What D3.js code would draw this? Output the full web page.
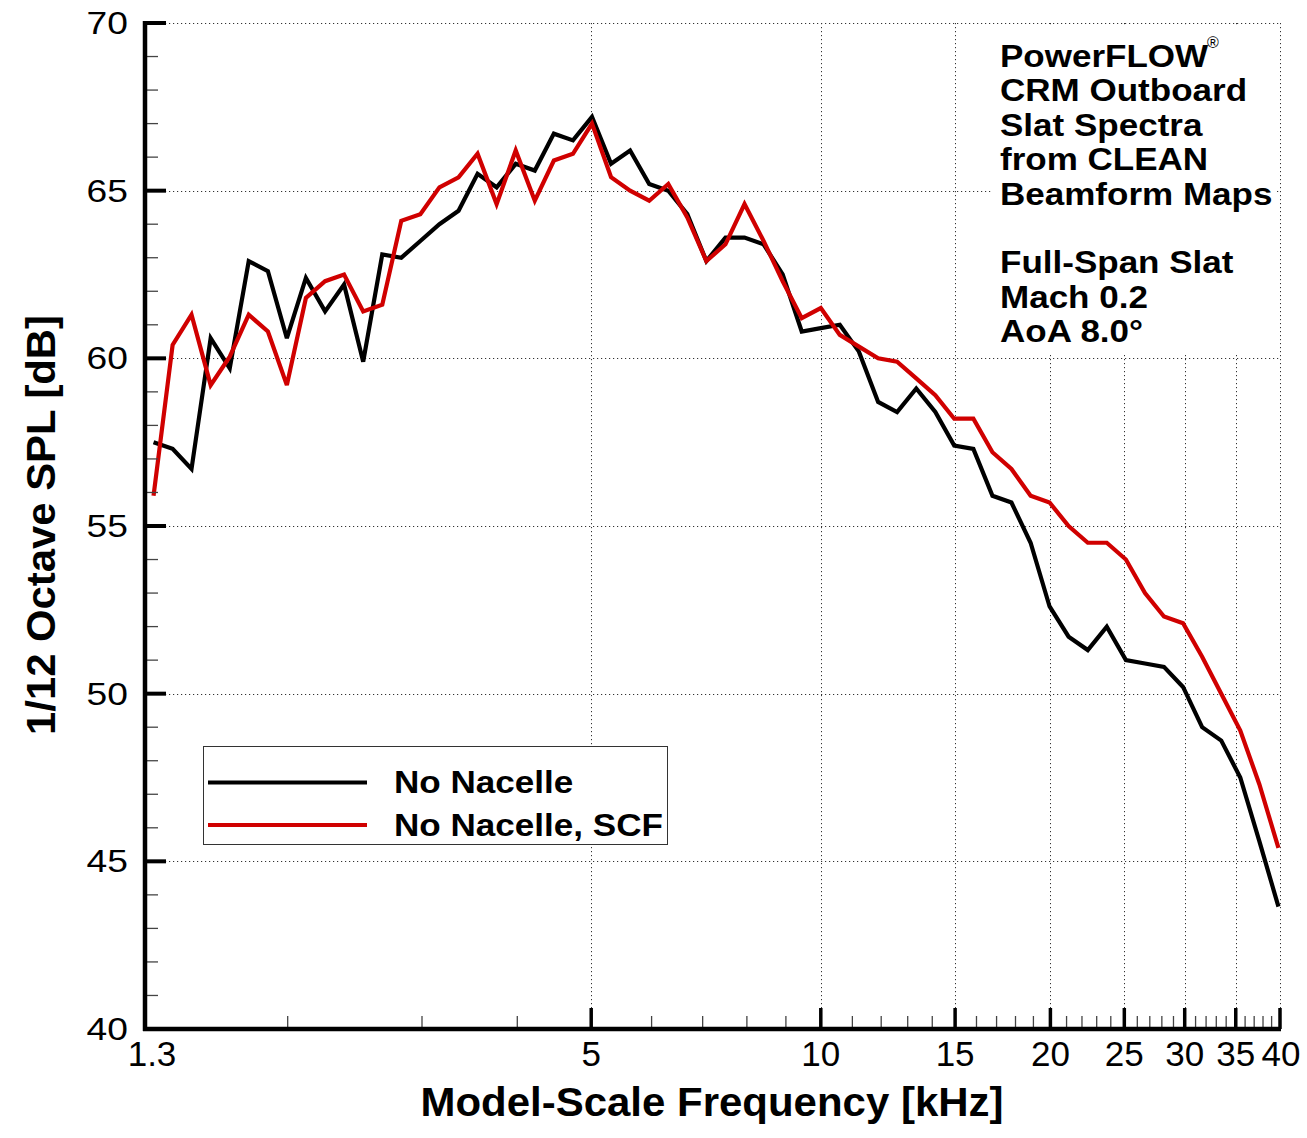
<!DOCTYPE html>
<html>
<head>
<meta charset="utf-8">
<script src="https://cdn.jsdelivr.net/npm/d3@7"></script>
<style>
  html, body { margin: 0; padding: 0; background: #fff; }
  svg { display: block; }
</style>
</head>
<body>
<script>
// 1/12-octave band centre frequencies [kHz]
const freqs = [1.334, 1.413, 1.496, 1.585, 1.679, 1.778, 1.884, 1.995, 2.113, 2.239,
  2.371, 2.512, 2.661, 2.818, 2.985, 3.162, 3.350, 3.548, 3.758, 3.981,
  4.217, 4.467, 4.732, 5.012, 5.309, 5.623, 5.957, 6.310, 6.683, 7.079,
  7.499, 7.943, 8.414, 8.913, 9.441, 10.0, 10.59, 11.22, 11.89, 12.59,
  13.34, 14.13, 14.96, 15.85, 16.79, 17.78, 18.84, 19.95, 21.13, 22.39,
  23.71, 25.12, 26.61, 28.18, 29.85, 31.62, 33.50, 35.48, 37.58, 39.81];

// No Nacelle [dB]
const noNacelle = [57.5, 57.3, 56.7, 60.6, 59.7, 62.9, 62.6, 60.6, 62.4, 61.4,
  62.2, 59.9, 63.1, 63.0, 63.5, 64.0, 64.4, 65.5, 65.1, 65.8,
  65.6, 66.7, 66.5, 67.2, 65.8, 66.2, 65.2, 65.0, 64.3, 62.9,
  63.6, 63.6, 63.4, 62.5, 60.8, 60.9, 61.0, 60.2, 58.7, 58.4,
  59.1, 58.4, 57.4, 57.3, 55.9, 55.7, 54.5, 52.6, 51.7, 51.3,
  52.0, 51.0, 50.9, 50.8, 50.2, 49.0, 48.6, 47.5, 45.6, 43.65];

// No Nacelle, SCF [dB]
const noNacelleSCF = [55.9, 60.4, 61.3, 59.2, 60.05, 61.3, 60.8, 59.2, 61.8, 62.3,
  62.5, 61.4, 61.6, 64.1, 64.3, 65.1, 65.4, 66.1, 64.6, 66.2,
  64.7, 65.9, 66.1, 67.0, 65.4, 65.0, 64.7, 65.2, 64.2, 62.9,
  63.4, 64.6, 63.5, 62.3, 61.2, 61.5, 60.7, 60.35, 60.0, 59.9,
  59.4, 58.9, 58.2, 58.2, 57.2, 56.7, 55.9, 55.7, 55.0, 54.5,
  54.5, 54.0, 53.0, 52.3, 52.1, 51.1, 50.0, 48.9, 47.3, 45.4];

const seriesNames = ["No Nacelle", "No Nacelle, SCF"];
const seriesColors = ["#000000", "#d00000"];

const xMajorTicks = [5, 10, 15, 20, 25, 30, 35, 40];
const xMinorTicks = [2, 3, 4, 6, 7, 8, 9, 11, 12, 13, 14, 16, 17, 18, 19,
  21, 22, 23, 24, 26, 27, 28, 29, 31, 32, 33, 34, 36, 37, 38, 39];
const xTickLabels = [1.3, 5, 10, 15, 20, 25, 30, 35, 40];
const yMajorTicks = [40, 45, 50, 55, 60, 65, 70];
const yMinorTicks = [41, 42, 43, 44, 46, 47, 48, 49, 51, 52, 53, 54, 56, 57, 58, 59,
  61, 62, 63, 64, 66, 67, 68, 69];

const annotationLines = ["PowerFLOW", "CRM Outboard", "Slat Spectra", "from CLEAN",
  "Beamform Maps", "", "Full-Span Slat", "Mach 0.2", "AoA 8.0°"];

const W = 1307, H = 1138;
const L = 145, R = 1280, T = 23, B = 1029;

const svg = d3.select("body").append("svg").attr("width", W).attr("height", H);

const x = d3.scaleLog().domain([1.3, 40]).range([L, R]);
const y = d3.scaleLinear().domain([40, 70]).range([B, T]);

const font = "'Liberation Sans', Arial, Helvetica, sans-serif";

svg.append("defs").append("clipPath").attr("id", "plotclip")
  .append("rect").attr("x", L).attr("y", T - 2).attr("width", R - L + 2).attr("height", B - T + 2);

// gridlines
const grid = svg.append("g").attr("stroke", "#333").attr("stroke-width", 1)
  .attr("stroke-dasharray", "1.2,2.8");
grid.selectAll("line.h").data(yMajorTicks.filter(d => d > 40)).join("line")
  .attr("x1", L).attr("x2", R).attr("y1", d => Math.round(y(d)) + 0.5).attr("y2", d => Math.round(y(d)) + 0.5);
grid.selectAll("line.v").data(xMajorTicks).join("line")
  .attr("y1", T).attr("y2", B).attr("x1", d => Math.round(x(d)) + 0.5).attr("x2", d => Math.round(x(d)) + 0.5);

// annotation background
svg.append("rect").attr("x", 993).attr("y", 27).attr("width", 284).attr("height", 328).attr("fill", "#fff");

// data lines
const line = d3.line().x((d, i) => x(freqs[i])).y(d => y(d));
const plot = svg.append("g").attr("clip-path", "url(#plotclip)");
[noNacelle, noNacelleSCF].forEach((s, k) => {
  plot.append("path").datum(s).attr("d", line)
    .attr("fill", "none").attr("stroke", seriesColors[k]).attr("stroke-width", 4.2)
    .attr("stroke-linejoin", "miter").attr("stroke-miterlimit", 3);
});

// axes
const ax = svg.append("g");
ax.selectAll("line.ym").data(yMinorTicks).join("line")
  .attr("x1", L).attr("x2", L + 13).attr("y1", d => y(d)).attr("y2", d => y(d))
  .attr("stroke", "#444").attr("stroke-width", 1.3);
ax.selectAll("line.yM").data(yMajorTicks).join("line")
  .attr("x1", L).attr("x2", L + 21).attr("y1", d => y(d)).attr("y2", d => y(d))
  .attr("stroke", "#000").attr("stroke-width", 4);
ax.selectAll("line.xm").data(xMinorTicks).join("line")
  .attr("x1", d => x(d)).attr("x2", d => x(d)).attr("y1", B).attr("y2", B - 13)
  .attr("stroke", "#444").attr("stroke-width", 1.3);
ax.selectAll("line.xM").data(xMajorTicks).join("line")
  .attr("x1", d => x(d)).attr("x2", d => x(d)).attr("y1", B).attr("y2", B - 21)
  .attr("stroke", "#000").attr("stroke-width", 3.5);
ax.append("line").attr("x1", L).attr("x2", L).attr("y1", T - 2).attr("y2", B + 2)
  .attr("stroke", "#000").attr("stroke-width", 4.5);
ax.append("line").attr("x1", L - 2).attr("x2", R + 1).attr("y1", B).attr("y2", B)
  .attr("stroke", "#000").attr("stroke-width", 4.5);

// y tick labels (wide glyphs)
ax.selectAll("text.yl").data(yMajorTicks).join("text")
  .attr("transform", d => `translate(128,${y(d) + 11}) scale(1.22,1)`)
  .attr("text-anchor", "end").attr("font-family", font).attr("font-size", 30.5)
  .attr("fill", "#000").text(d => d);

// x tick labels
ax.selectAll("text.xl").data(xTickLabels).join("text")
  .attr("x", d => x(d) + (d === 1.3 ? 7 : (d === 40 ? 1 : 0)))
  .attr("y", 1066)
  .attr("text-anchor", "middle").attr("font-family", font).attr("font-size", 35)
  .attr("fill", "#000").text(d => d);

// axis titles
svg.append("text").attr("x", 712).attr("y", 1116).attr("text-anchor", "middle")
  .attr("font-family", font).attr("font-weight", "bold").attr("font-size", 40)
  .attr("textLength", 583).attr("lengthAdjust", "spacingAndGlyphs")
  .text("Model-Scale Frequency [kHz]");
svg.append("text").attr("transform", "translate(55,525) rotate(-90)").attr("text-anchor", "middle")
  .attr("font-family", font).attr("font-weight", "bold").attr("font-size", 40)
  .attr("textLength", 420).attr("lengthAdjust", "spacingAndGlyphs")
  .text("1/12 Octave SPL [dB]");

// annotation
const ann = svg.append("g").attr("transform", "translate(1000,0) scale(1.13,1)");
annotationLines.forEach((t, i) => {
  if (!t) return;
  ann.append("text").attr("x", 0).attr("y", 67 + i * 34.4)
    .attr("font-family", font).attr("font-weight", "bold").attr("font-size", 31)
    .attr("fill", "#000").text(t);
});
svg.append("text").attr("x", 1207).attr("y", 48).attr("font-family", font)
  .attr("font-size", 16).attr("fill", "#000").text("®");

// legend
const lg = svg.append("g");
lg.append("rect").attr("x", 203.5).attr("y", 746.5).attr("width", 464).attr("height", 98)
  .attr("fill", "#fff").attr("stroke", "#333").attr("stroke-width", 1);
const legY = [782.5, 825];
seriesNames.forEach((n, k) => {
  lg.append("line").attr("x1", 208).attr("x2", 367).attr("y1", legY[k]).attr("y2", legY[k])
    .attr("stroke", seriesColors[k]).attr("stroke-width", 4);
  lg.append("text").attr("transform", `translate(394,${legY[k] + 10.5}) scale(1.15,1)`)
    .attr("font-family", font).attr("font-weight", "bold").attr("font-size", 30.5)
    .attr("fill", "#000").text(n);
});
</script>
</body>
</html>
